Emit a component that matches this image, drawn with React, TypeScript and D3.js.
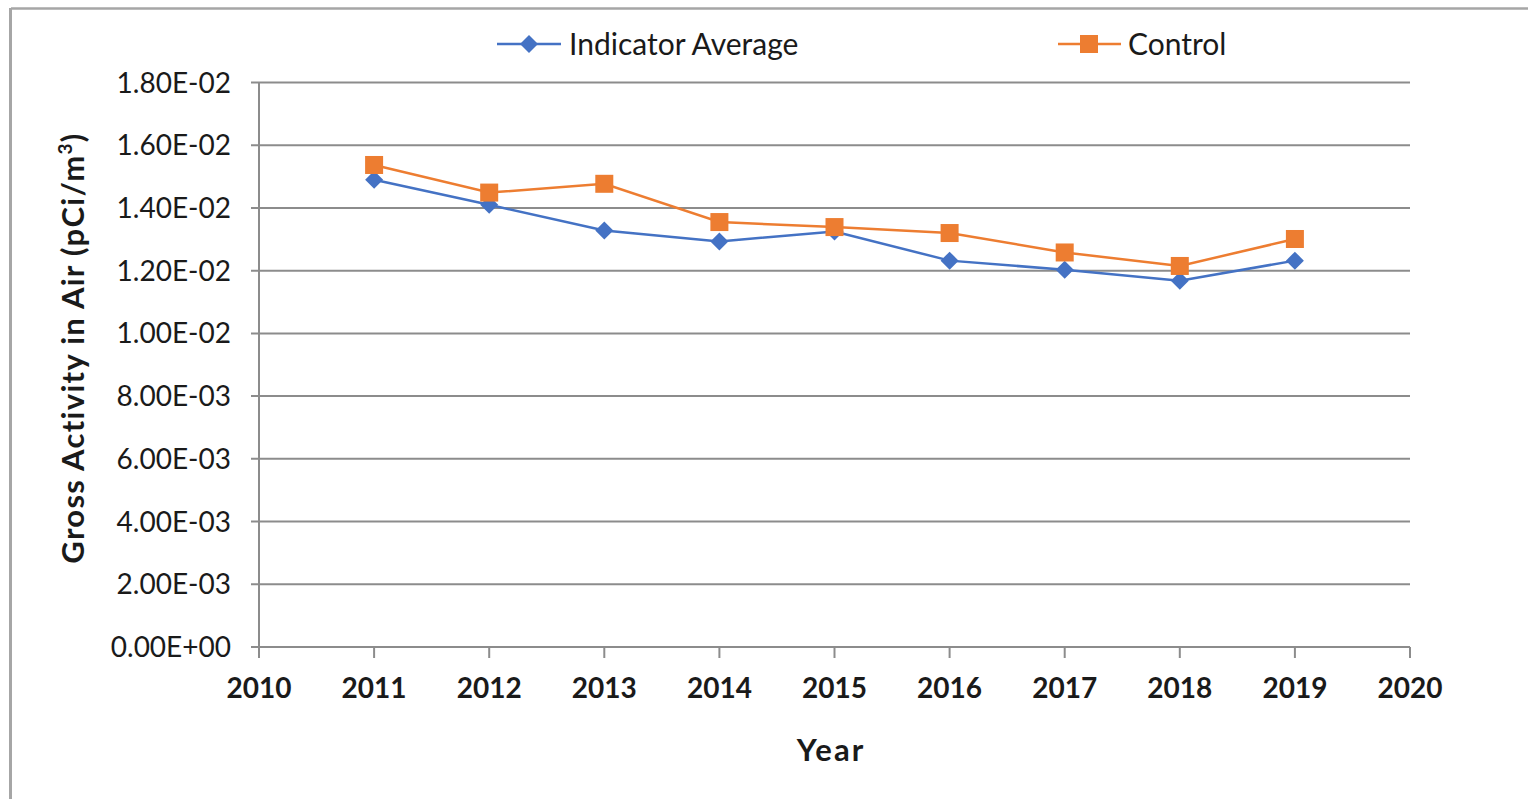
import React from "react";
import * as d3 from "d3";

const years = [2011, 2012, 2013, 2014, 2015, 2016, 2017, 2018, 2019];
const indicatorAverage = [0.0149, 0.0141, 0.01328, 0.01293, 0.01325, 0.01232, 0.01203, 0.01168, 0.01232];
const control = [0.01537, 0.01449, 0.01477, 0.01355, 0.01339, 0.0132, 0.01258, 0.01215, 0.01301];
const yTicks = [0, 0.002, 0.004, 0.006, 0.008, 0.01, 0.012, 0.014, 0.016, 0.018];
const xTicks = [2010, 2011, 2012, 2013, 2014, 2015, 2016, 2017, 2018, 2019, 2020];
const seriesNames = ["Indicator Average", "Control"];

const W = 1528;
const H = 799;
const BLUE = "#4472C4";
const ORANGE = "#ED7D31";
const GRID = "#8c8c8c";

const fmtE = (v: number) => {
  const s = v.toExponential(2).toUpperCase();
  const m = s.match(/^([\d.]+)E([+-])(\d+)$/);
  if (!m) return s;
  return `${m[1]}E${m[2]}${m[3].padStart(2, "0")}`;
};

export default function App() {
  const x = d3.scaleLinear().domain([2010, 2020]).range([259, 1410]);
  const y = d3.scaleLinear().domain([0, 0.018]).range([647, 82.5]);
  const line = d3
    .line<number>()
    .x((_, i) => x(years[i]))
    .y((d) => y(d));
  const font = "Lato, 'Open Sans', sans-serif";
  const diamond = (cx: number, cy: number, r: number) =>
    `M${cx},${cy - r}L${cx + r},${cy}L${cx},${cy + r}L${cx - r},${cy}Z`;

  return (
    <svg
      width={W}
      height={H}
      style={{ position: "absolute", left: 0, top: 0, background: "#fff" }}
      fontFamily={font}
    >
      <rect x={0} y={0} width={W} height={H} fill="#fff" />
      {/* chart border */}
      <line x1={11} y1={8.5} x2={W} y2={8.5} stroke="#a6a6a6" strokeWidth={2.5} />
      <line x1={10.5} y1={8} x2={10.5} y2={H} stroke="#a6a6a6" strokeWidth={3} />

      {/* gridlines */}
      {yTicks.map((t) => (
        <line
          key={"g" + t}
          x1={251}
          x2={1410}
          y1={y(t)}
          y2={y(t)}
          stroke={GRID}
          strokeWidth={2}
        />
      ))}
      {/* y axis line */}
      <line x1={259} x2={259} y1={y(0.018)} y2={y(0)} stroke={GRID} strokeWidth={2} />
      {/* x ticks */}
      {xTicks.map((t) => (
        <line key={"xt" + t} x1={x(t)} x2={x(t)} y1={y(0)} y2={y(0) + 11} stroke={GRID} strokeWidth={2} />
      ))}

      {/* y tick labels */}
      {yTicks.map((t) => (
        <text
          key={"yl" + t}
          x={231}
          y={y(t)}
          dy="0.36em"
          textAnchor="end"
          fontSize={28}
          fill="#1a1a1a"
        >
          {fmtE(t)}
        </text>
      ))}
      {/* x tick labels */}
      {xTicks.map((t) => (
        <text
          key={"xl" + t}
          x={x(t)}
          y={698}
          textAnchor="middle"
          fontSize={28}
          fontWeight="bold"
          fill="#1a1a1a"
        >
          {t}
        </text>
      ))}

      {/* axis titles */}
      <text x={831} y={761} textAnchor="middle" fontSize={31} fontWeight="bold" letterSpacing={2} fill="#1a1a1a">
        Year
      </text>
      <text
        transform={`translate(84,348) rotate(-90)`}
        textAnchor="middle"
        fontSize={31}
        fontWeight="bold"
        letterSpacing={1.3}
        fill="#1a1a1a"
      >
        Gross Activity in Air (pCi/m<tspan dy={-12} fontSize={19}>3</tspan>
        <tspan dy={12}>)</tspan>
      </text>

      {/* series lines */}
      <path d={line(indicatorAverage) || ""} fill="none" stroke={BLUE} strokeWidth={2.5} />
      <path d={line(control) || ""} fill="none" stroke={ORANGE} strokeWidth={2.5} />

      {/* markers */}
      {indicatorAverage.map((v, i) => (
        <path key={"d" + i} d={diamond(x(years[i]), y(v), 9)} fill={BLUE} />
      ))}
      {control.map((v, i) => (
        <rect key={"s" + i} x={x(years[i]) - 9} y={y(v) - 9} width={18} height={18} fill={ORANGE} />
      ))}

      {/* legend */}
      <g>
        <line x1={497} x2={561} y1={44} y2={44} stroke={BLUE} strokeWidth={2.5} />
        <path d={diamond(529, 44, 9)} fill={BLUE} />
        <text x={569} y={44} dy="0.36em" fontSize={30} fill="#1a1a1a">
          {seriesNames[0]}
        </text>
        <line x1={1058} x2={1121} y1={44} y2={44} stroke={ORANGE} strokeWidth={2.5} />
        <rect x={1080} y={35} width={18} height={18} fill={ORANGE} />
        <text x={1128} y={44} dy="0.36em" fontSize={30} fill="#1a1a1a">
          {seriesNames[1]}
        </text>
      </g>
    </svg>
  );
}
